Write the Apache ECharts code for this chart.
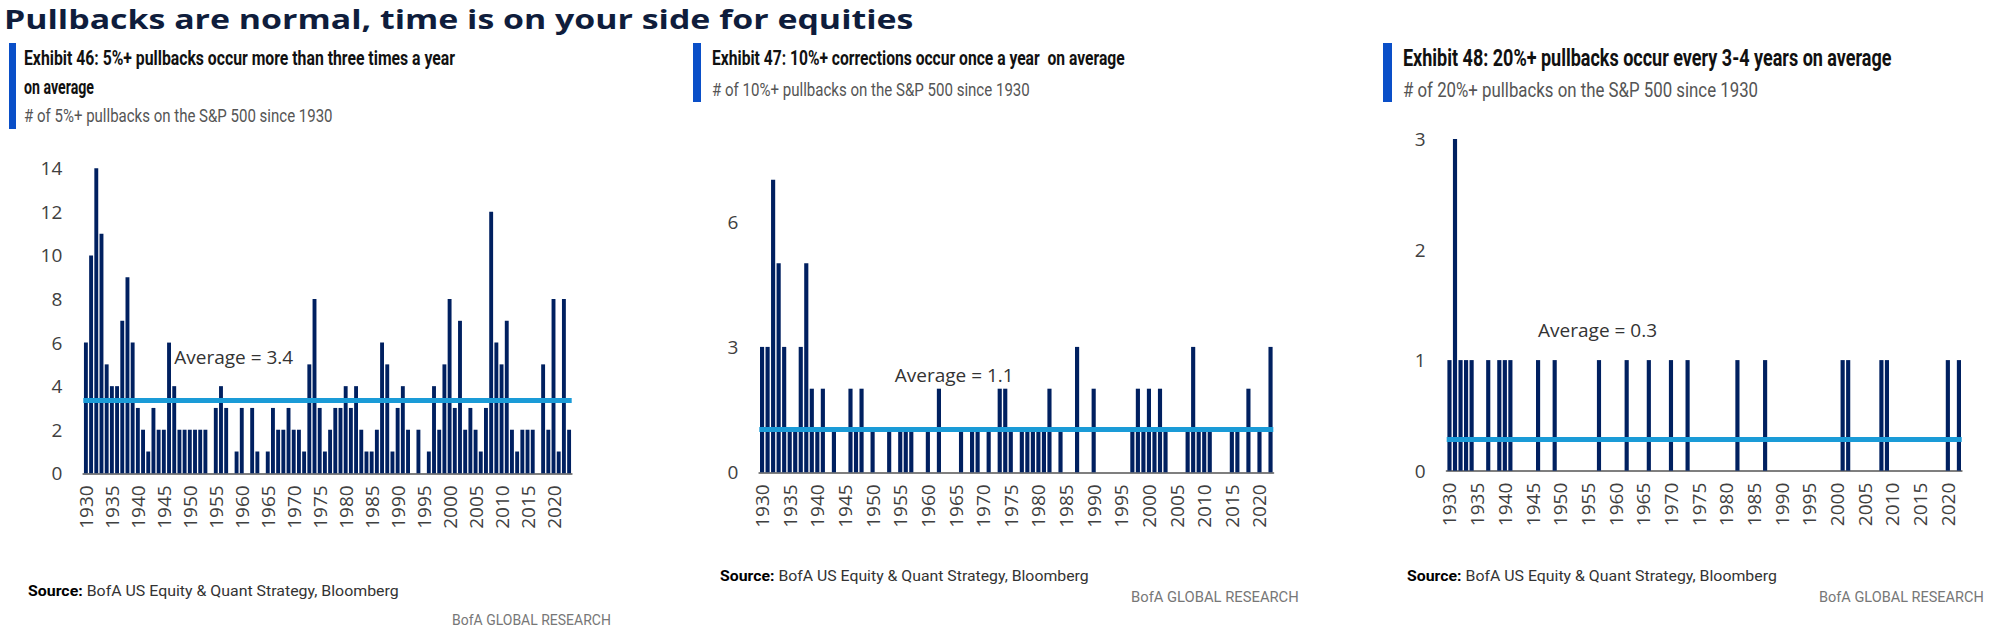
<!DOCTYPE html>
<html>
<head>
<meta charset="utf-8">
<script src="https://cdn.jsdelivr.net/npm/echarts@6/dist/echarts.min.js"></script>
<style>
html,body{margin:0;padding:0;background:#fff;}
#chart{width:1997px;height:629px;}
</style>
</head>
<body>
<div id="chart"></div>
<script>
// ---------------- DATA ----------------
const years5 = ['1930','1931','1932','1933','1934','1935','1936','1937','1938','1939',
  '1940','1941','1942','1943','1944','1945','1946','1947','1948','1949',
  '1950','1951','1952','1953','1954','1955','1956','1957','1958','1959',
  '1960','1961','1962','1963','1964','1965','1966','1967','1968','1969',
  '1970','1971','1972','1973','1974','1975','1976','1977','1978','1979',
  '1980','1981','1982','1983','1984','1985','1986','1987','1988','1989',
  '1990','1991','1992','1993','1994','1995','1996','1997','1998','1999',
  '2000','2001','2002','2003','2004','2005','2006','2007','2008','2009',
  '2010','2011','2012','2013','2014','2015','2016','2017','2018','2019',
  '2020','2021','2022','2023'];
const years10 = ['1930','1931','1932','1933','1934','1935','1936','1937','1938','1939',
  '1940','1941','1942','1943','1944','1945','1946','1947','1948','1949',
  '1950','1951','1952','1953','1954','1955','1956','1957','1958','1959',
  '1960','1961','1962','1963','1964','1965','1966','1967','1968','1969',
  '1970','1971','1972','1973','1974','1975','1976','1977','1978','1979',
  '1980','1981','1982','1983','1984','1985','1986','1987','1988','1989',
  '1990','1991','1992','1993','1994','1995','1996','1997','1998','1999',
  '2000','2001','2002','2003','2004','2005','2006','2007','2008','2009',
  '2010','2011','2012','2013','2014','2015','2016','2017','2018','2019',
  '2020','2021','2022'];
const years20 = years10.slice();

// # of 5%+ pullbacks per year
const pullbacks5 = [
  6,10,14,11,5,4,4,7,9,6,
  3,2,1,3,2,2,6,4,2,2,
  2,2,2,2,0,3,4,3,0,1,
  3,0,3,1,0,1,3,2,2,3,
  2,2,1,5,8,3,1,2,3,3,
  4,3,4,2,1,1,2,6,5,1,
  3,4,2,0,2,0,1,4,2,5,
  8,3,7,2,3,2,1,3,12,6,
  5,7,2,1,2,2,2,0,5,2,
  8,1,8,2];
// # of 10%+ pullbacks per year
const pullbacks10 = [
  3,3,7,5,3,1,1,3,5,2,
  1,2,0,1,0,0,2,1,2,0,
  1,0,0,1,0,1,1,1,0,0,
  1,0,2,0,0,0,1,0,1,1,
  0,1,0,2,2,1,0,1,1,1,
  1,1,2,0,1,0,0,3,0,0,
  2,0,0,0,0,0,0,1,2,1,
  2,1,2,1,0,0,0,1,3,1,
  1,1,0,0,0,1,1,0,2,0,
  1,0,3];
// # of 20%+ pullbacks per year
const pullbacks20 = [
  1,3,1,1,1,0,0,1,0,1,
  1,1,0,0,0,0,1,0,0,1,
  0,0,0,0,0,0,0,1,0,0,
  0,0,1,0,0,0,1,0,0,0,
  1,0,0,1,0,0,0,0,0,0,
  0,0,1,0,0,0,0,1,0,0,
  0,0,0,0,0,0,0,0,0,0,
  0,1,1,0,0,0,0,0,1,1,
  0,0,0,0,0,0,0,0,0,0,
  1,0,1];

const yTicks = [[0,14,2],[0,7,3],[0,3,1]];   // min, max, interval
const avgLabels = ['Average = 3.4','Average = 1.1','Average = 0.3'];
const avgLabelAt = [['1947',5.35],['1954',2.33],['1946',1.27]];

const mainTitle = 'Pullbacks are normal, time is on your side for equities';
const headings = [
  ['Exhibit 46: 5%+ pullbacks occur more than three times a year','on average'],
  ['Exhibit 47: 10%+ corrections occur once a year  on average'],
  ['Exhibit 48: 20%+ pullbacks occur every 3-4 years on average']
];
const subtitles = [
  '# of 5%+ pullbacks on the S&P 500 since 1930',
  '# of 10%+ pullbacks on the S&P 500 since 1930',
  '# of 20%+ pullbacks on the S&P 500 since 1930'
];
const sourceLabel = 'Source:';
const sourceText = 'BofA US Equity & Quant Strategy, Bloomberg';
const brand = 'BofA GLOBAL RESEARCH';

// ---------------- LAYOUT / STYLE ----------------
const NAVY = '#002060';
const AVG = '#1a9bd7';
const BLUE = '#0a4fc8';

const mctx = document.createElement('canvas').getContext('2d');
function measure(text, font){ mctx.font = font; return mctx.measureText(text).width; }
function txt(text, x, yMid, size, weight, family, color, targetW){
  const font = weight + ' ' + size + 'px ' + family;
  const s = targetW ? targetW / measure(text, font) : 1;
  return {type:'text', x:x, y:yMid, scaleX:s, scaleY:1, silent:true, z:10,
    style:{text:text, x:0, y:0, fill:color, font:font,
      align:'left', verticalAlign:'middle', textAlign:'left', textVerticalAlign:'middle'}};
}
function src(x, yMid, size, targetW){
  const fb = 'bold ' + size + 'px Roboto';
  const fr = 'normal ' + size + 'px Roboto';
  const wb = measure(sourceLabel + ' ', fb);
  const wr = measure(sourceText, fr);
  const s = targetW / (wb + wr);
  return [
    {type:'text', x:x, y:yMid, scaleX:s, silent:true, z:10,
      style:{text:sourceLabel, x:0, y:0, fill:'#000', font:fb, align:'left', verticalAlign:'middle'}},
    {type:'text', x:x + wb*s, y:yMid, scaleX:s, silent:true, z:10,
      style:{text:sourceText, x:0, y:0, fill:'#333', font:fr, align:'left', verticalAlign:'middle'}}
  ];
}

const OS = '"Open Sans"';
let graphics = [
  txt(mainTitle, 4, 18.5, 27, 'bold', OS, '#0f1d3c', 910),
  // blue tabs
  {type:'rect', silent:true, shape:{x:9, y:43, width:7, height:86}, style:{fill:BLUE}},
  {type:'rect', silent:true, shape:{x:693, y:43, width:8, height:59}, style:{fill:BLUE}},
  {type:'rect', silent:true, shape:{x:1383, y:43, width:9, height:59}, style:{fill:BLUE}},
  // panel 1
  txt(headings[0][0], 24, 58.2, 21, 'bold', 'Roboto', '#111', 431),
  txt(headings[0][1], 24, 86, 21, 'bold', 'Roboto', '#111', 70),
  txt(subtitles[0], 24, 115.2, 19, 'normal', 'Roboto', '#555', 309),
  // panel 2
  txt(headings[1][0], 712, 58.2, 21, 'bold', 'Roboto', '#111', 413),
  txt(subtitles[1], 712, 89.7, 19, 'normal', 'Roboto', '#555', 318),
  // panel 3
  txt(headings[2][0], 1403, 58.3, 23, 'bold', 'Roboto', '#111', 489),
  txt(subtitles[2], 1403, 89.5, 21, 'normal', 'Roboto', '#555', 355),
  // brand
  txt(brand, 452, 620, 15, 'normal', 'Roboto', '#777', 159),
  txt(brand, 1131, 597, 15, 'normal', 'Roboto', '#777', 168),
  txt(brand, 1819, 597, 15, 'normal', 'Roboto', '#777', 165)
];
graphics = graphics.concat(src(28, 591, 15, 371), src(720, 576, 15, 369), src(1407, 576, 15, 370));

const grids = [
  {left:83.3, top:168.3, width:488.4, height:305},
  {left:759.3, top:179.7, width:514, height:292.6},
  {left:1446.7, top:138.9, width:515, height:331.8}
];
const cats = [years5, years10, years20];
const vals = [pullbacks5, pullbacks10, pullbacks20];
const labelSize = [19, 19, 19];

const option = {
  animation:false,
  backgroundColor:'#fff',
  textStyle:{fontFamily:'"Open Sans"'},
  graphic:graphics,
  grid:grids.map(g => Object.assign({containLabel:false}, g)),
  xAxis:cats.map((c,i) => ({
    type:'category', gridIndex:i, data:c, boundaryGap:true,
    axisLine:{show:true, lineStyle:{color:'#7f7f7f', width:2}},
    axisTick:{show:false},
    splitLine:{show:false},
    axisLabel:{interval:4, rotate:90, fontSize:labelSize[i], color:'#404040', fontFamily:'"Open Sans"', margin:12}
  })),
  yAxis:yTicks.map((t,i) => ({
    type:'value', gridIndex:i, min:t[0], max:t[1], interval:t[2],
    axisLine:{show:false}, axisTick:{show:false}, splitLine:{show:false},
    axisLabel:{fontSize:labelSize[i], color:'#404040', fontFamily:'"Open Sans"', margin:21, showMaxLabel:i!==1}
  })),
  series:vals.map((v,i) => ({
    type:'bar', xAxisIndex:i, yAxisIndex:i, data:v,
    barCategoryGap:'25%',
    itemStyle:{color:NAVY},
    markLine:{
      silent:true, symbol:['none','none'],
      label:{show:false},
      lineStyle:{color:AVG, width:5, type:'solid'},
      data:[{type:'average'}]
    },
    markPoint:{
      silent:true, symbol:'circle', symbolSize:0,
      data:[{coord:avgLabelAt[i], value:0}],
      label:{show:true, position:'right', distance:0, formatter:avgLabels[i],
        color:'#333', fontSize:19, fontFamily:'"Open Sans"'}
    }
  }))
};

const chart = echarts.init(document.getElementById('chart'), null, {renderer:'svg'});
chart.setOption(option);
</script>
</body>
</html>
